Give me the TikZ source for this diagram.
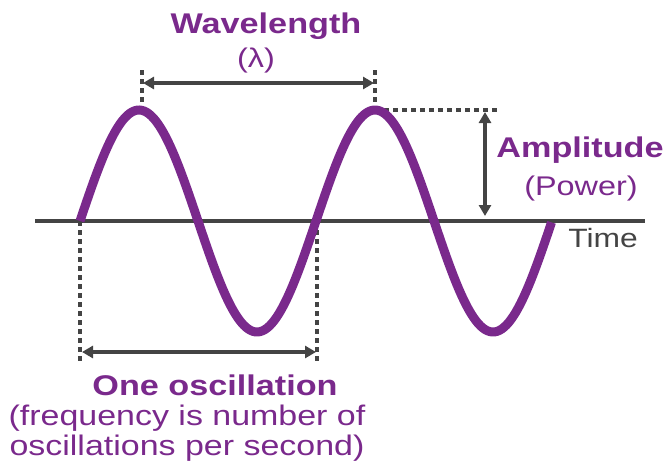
\documentclass[tikz,border=0pt]{standalone}
\usepackage{fontspec}
\setmainfont{Liberation Sans}
\newfontfamily\widefont[FakeStretch=1.2]{Liberation Sans}
\usetikzlibrary{arrows.meta}
\definecolor{wavepurple}{RGB}{122,41,140}
\definecolor{darkgrey}{RGB}{68,68,68}
\begin{document}
\begin{tikzpicture}[x=1pt,y=-1pt,
  guide/.style={darkgrey,line width=3.4pt,dash pattern=on 4.5pt off 4.5pt},
  measure/.style={darkgrey,line width=3.2pt,{Triangle[length=11pt,width=12pt]}-{Triangle[length=11pt,width=12pt]},shorten <=1pt,shorten >=1pt},
  boldlabel/.style={text=wavepurple,font=\widefont\bfseries\fontsize{28.5}{30}\selectfont,inner sep=0pt,anchor=base},
  plainlabel/.style={text=wavepurple,font=\widefont\fontsize{28.3}{30}\selectfont,inner sep=0pt,anchor=base},
  smalllabel/.style={text=wavepurple,font=\widefont\fontsize{27}{30}\selectfont,inner sep=0pt,anchor=base},
  timelabel/.style={text=darkgrey,font=\widefont\fontsize{26.5}{28}\selectfont,inner sep=0pt,anchor=base}]
\useasboundingbox (0,0) rectangle (666,463);
% axis
\coordinate (axL) at (35,221);
\coordinate (axR) at (645,221);
\draw[darkgrey,line width=3.5pt] (axL) -- (axR);
% key points
\coordinate (start) at (80,221);
\coordinate (p1) at (142,110);
\coordinate (p2) at (375,110);
\coordinate (z2) at (317,221);
% guides
\coordinate (p1t) at (142,70);
\coordinate (p2t) at (375,70);
\coordinate (ampR) at (497,110);
\coordinate (startb) at (80,363);
\coordinate (z2b) at (317,363);
\draw[guide] (p1t) -- (p1);
\draw[guide] (p2t) -- (p2);
\draw[guide] (p2) -- (ampR);
\draw[guide] (start) -- (startb);
\draw[guide] (z2) -- (z2b);
% wave
\draw[wavepurple,line width=9pt,smooth,samples=200,domain=0:2]
  plot ({80+236*\x},{221-111*sin(360*\x)});
% arrows
\coordinate (wlL) at (142,83);
\coordinate (wlR) at (375,83);
\draw[measure] (wlL) -- (wlR);
\coordinate (amT) at (485,111);
\coordinate (amB) at (485,217);
\draw[measure] (amT) -- (amB);
\coordinate (osL) at (81,352);
\coordinate (osR) at (317,352);
\draw[measure] (osL) -- (osR);
% labels
\node[boldlabel] (wl) at (266,33) {Wavelength};
\node[smalllabel] (lam) at (256,67) {(λ)};
\node[boldlabel] (amp) at (580,157) {Amplitude};
\node[smalllabel] (pow) at (581,195) {(Power)};
\node[timelabel] (time) at (603,247) {Time};
\node[boldlabel] (osc) at (215,395) {One oscillation};
\node[plainlabel] (fr1) at (187,425) {(frequency is number of};
\node[plainlabel] (fr2) at (187,455) {oscillations per second)};
\end{tikzpicture}
\end{document}
